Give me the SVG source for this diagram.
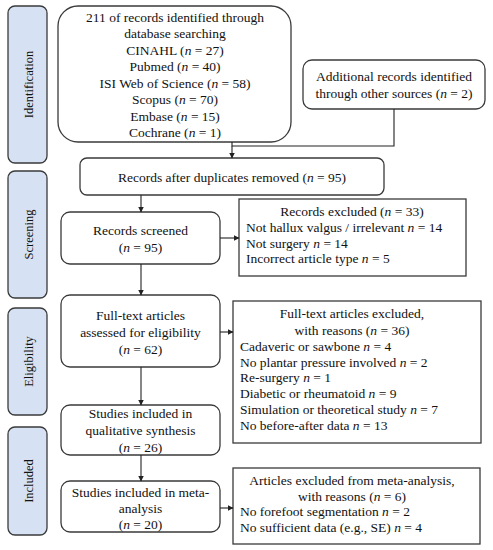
<svg xmlns="http://www.w3.org/2000/svg" width="493" height="550" viewBox="0 0 493 550" font-family="'Liberation Serif', 'Times New Roman', Times, serif">
<defs>
<marker id="ah" markerWidth="6" markerHeight="6" refX="5.5" refY="3" orient="auto" markerUnits="userSpaceOnUse">
<path d="M0,0 L6,3 L0,6 Z" fill="#222"/>
</marker>
<style>
.stage{fill:#d6e2f3;stroke:#3a3a3a;stroke-width:1.3}
.box{fill:#fff;stroke:#3a3a3a;stroke-width:1.3}
.t{font-size:13.5px;fill:#111}
.c{text-anchor:middle}
.s{font-size:12.5px;fill:#111;text-anchor:middle}
.ln{stroke:#222;stroke-width:1.1;fill:none}
</style>
</defs>
<rect width="493" height="550" fill="#fff"/>

<g id="stage-identification">
<rect class="stage" x="8" y="6" width="39" height="157" rx="7"/>
<text class="s" transform="translate(32.5,84.5) rotate(-90)">Identification</text>
</g>
<g id="stage-screening">
<rect class="stage" x="8" y="171" width="39" height="127" rx="7"/>
<text class="s" transform="translate(32.5,234.5) rotate(-90)">Screening</text>
</g>
<g id="stage-eligibility">
<rect class="stage" x="8" y="308" width="39" height="107" rx="7"/>
<text class="s" transform="translate(32.5,361.5) rotate(-90)">Eligibility</text>
</g>
<g id="stage-included">
<rect class="stage" x="8" y="427" width="39" height="108" rx="7"/>
<text class="s" transform="translate(32.5,481) rotate(-90)">Included</text>
</g>

<g id="identified">
<rect class="box" x="58" y="6" width="233" height="136" rx="20"/>
<text class="t c" x="175" y="21.5">211 of records identified through</text>
<text class="t c" x="175" y="38">database searching</text>
<text class="t c" x="175" y="54.5">CINAHL (<tspan font-style="italic">n</tspan> = 27)</text>
<text class="t c" x="175" y="71">Pubmed (<tspan font-style="italic">n</tspan> = 40)</text>
<text class="t c" x="175" y="87.5">ISI Web of Science (<tspan font-style="italic">n</tspan> = 58)</text>
<text class="t c" x="175" y="104">Scopus (<tspan font-style="italic">n</tspan> = 70)</text>
<text class="t c" x="175" y="120.5">Embase (<tspan font-style="italic">n</tspan> = 15)</text>
<text class="t c" x="175" y="137">Cochrane (<tspan font-style="italic">n</tspan> = 1)</text>
</g>

<g id="additional">
<rect class="box" x="303" y="60" width="182" height="49" rx="9"/>
<text class="t c" x="394" y="81">Additional records identified</text>
<text class="t c" x="394" y="98">through other sources (<tspan font-style="italic">n</tspan> = 2)</text>
</g>

<g id="duplicates">
<rect class="box" x="80" y="158" width="304" height="37" rx="7"/>
<text class="t c" x="232" y="181.5">Records after duplicates removed (<tspan font-style="italic">n</tspan> = 95)</text>
</g>

<g id="screened">
<rect class="box" x="61" y="212" width="159" height="52" rx="9"/>
<text class="t c" x="140.5" y="235">Records screened</text>
<text class="t c" x="140.5" y="252">(<tspan font-style="italic">n</tspan>  = 95)</text>
</g>

<g id="excluded1">
<rect class="box" x="239" y="199" width="227" height="77"/>
<text class="t c" x="352" y="216">Records excluded  (<tspan font-style="italic">n</tspan> = 33)</text>
<text class="t" x="246" y="232">Not hallux valgus / irrelevant <tspan font-style="italic">n</tspan> = 14</text>
<text class="t" x="246" y="247.5">Not surgery <tspan font-style="italic">n</tspan> = 14</text>
<text class="t" x="246" y="263">Incorrect article type <tspan font-style="italic">n</tspan>  = 5</text>
</g>

<g id="fulltext">
<rect class="box" x="61" y="295" width="159" height="72" rx="9"/>
<text class="t c" x="140.5" y="320">Full-text articles</text>
<text class="t c" x="140.5" y="337">assessed for eligibility</text>
<text class="t c" x="140.5" y="354">(<tspan font-style="italic">n</tspan> = 62)</text>
</g>

<g id="excluded2">
<rect class="box" x="233" y="301" width="248" height="142"/>
<text class="t c" x="352" y="318">Full-text articles excluded,</text>
<text class="t c" x="352" y="334.5">with reasons (<tspan font-style="italic">n</tspan> = 36)</text>
<text class="t" x="240" y="350.5">Cadaveric or sawbone <tspan font-style="italic">n</tspan> = 4</text>
<text class="t" x="240" y="366.5">No plantar pressure involved <tspan font-style="italic">n</tspan> = 2</text>
<text class="t" x="240" y="382">Re-surgery <tspan font-style="italic">n</tspan> = 1</text>
<text class="t" x="240" y="398">Diabetic or rheumatoid <tspan font-style="italic">n</tspan> = 9</text>
<text class="t" x="240" y="414">Simulation or theoretical study <tspan font-style="italic">n</tspan> = 7</text>
<text class="t" x="240" y="430">No before-after data <tspan font-style="italic">n</tspan> = 13</text>
</g>

<g id="qualitative">
<rect class="box" x="61" y="405" width="159" height="50" rx="9"/>
<text class="t c" x="140.5" y="418">Studies included in</text>
<text class="t c" x="140.5" y="435">qualitative synthesis</text>
<text class="t c" x="140.5" y="451.5">(<tspan font-style="italic">n</tspan> = 26)</text>
</g>

<g id="meta">
<rect class="box" x="61" y="481" width="159" height="51" rx="9"/>
<text class="t c" x="140.5" y="496.5">Studies included in meta-</text>
<text class="t c" x="140.5" y="513">analysis</text>
<text class="t c" x="140.5" y="529">(<tspan font-style="italic">n</tspan> = 20)</text>
</g>

<g id="excluded3">
<rect class="box" x="233" y="468" width="247" height="76"/>
<text class="t c" x="352" y="485">Articles excluded from meta-analysis,</text>
<text class="t c" x="352" y="500.5">with reasons (<tspan font-style="italic">n</tspan> = 6)</text>
<text class="t" x="240" y="516">No forefoot segmentation <tspan font-style="italic">n</tspan> = 2</text>
<text class="t" x="240" y="532">No sufficient data (e.g., SE) <tspan font-style="italic">n</tspan> = 4</text>
</g>

<g id="connectors">
<polyline class="ln" points="232,142 232,146 394,146 394,109"/>
<line class="ln" x1="232" y1="146" x2="232" y2="158" marker-end="url(#ah)"/>
<line class="ln" x1="141" y1="195" x2="141" y2="212" marker-end="url(#ah)"/>
<line class="ln" x1="220" y1="238" x2="239" y2="238" marker-end="url(#ah)"/>
<line class="ln" x1="141" y1="264" x2="141" y2="295" marker-end="url(#ah)"/>
<line class="ln" x1="220" y1="332" x2="233" y2="332" marker-end="url(#ah)"/>
<line class="ln" x1="141" y1="367" x2="141" y2="405" marker-end="url(#ah)"/>
<line class="ln" x1="141" y1="455" x2="141" y2="481" marker-end="url(#ah)"/>
<line class="ln" x1="220" y1="508" x2="233" y2="508" marker-end="url(#ah)"/>
</g>
</svg>
